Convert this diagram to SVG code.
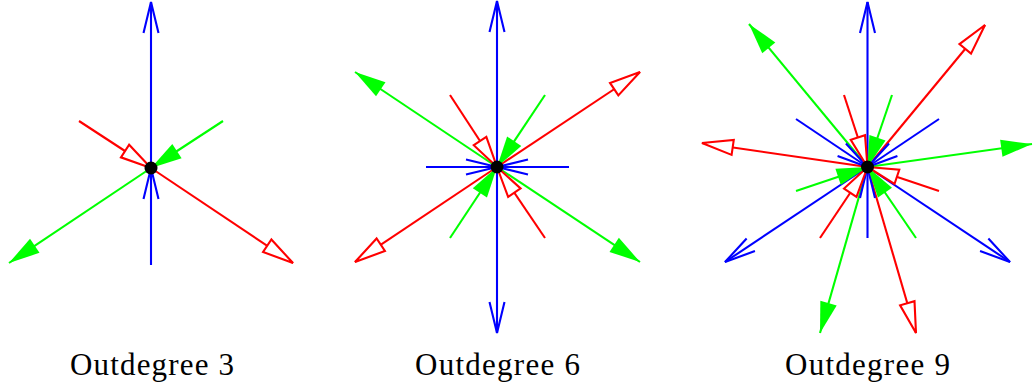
<svg xmlns="http://www.w3.org/2000/svg" width="1033" height="387" viewBox="0 0 1033 387">
<defs>
<style>
.b{stroke:#0000ff;stroke-width:2.1;fill:none;marker-end:url(#mb)}
.r{stroke:#ff0000;stroke-width:2.1;fill:none;marker-end:url(#mr)}
.g{stroke:#00ff00;stroke-width:2.1;fill:none;marker-end:url(#mg)}
.lbl{font-family:"Liberation Serif","Times New Roman",serif;font-size:31px;fill:#000;text-anchor:middle}
</style>
<marker id="mb" viewBox="-35 -10 40 20" markerWidth="40" markerHeight="20" refX="0" refY="0" orient="auto" markerUnits="userSpaceOnUse" overflow="visible">
<path d="M-31,-7.5 L0,0 L-31,7.5" fill="none" stroke="#0000ff" stroke-width="2.1"/>
</marker>
<marker id="mr" viewBox="-35 -10 40 20" markerWidth="40" markerHeight="20" refX="0" refY="0" orient="auto" markerUnits="userSpaceOnUse" overflow="visible">
<path d="M0,0 L-31,-7.5 L-31,7.5 Z" fill="#ffffff" stroke="#ff0000" stroke-width="2.1"/>
</marker>
<marker id="mg" viewBox="-35 -10 40 20" markerWidth="40" markerHeight="20" refX="0" refY="0" orient="auto" markerUnits="userSpaceOnUse" overflow="visible">
<path d="M0,0 L-31,-8.5 L-31,8.5 Z" fill="#00ff00" stroke="none"/>
</marker>
</defs>
<g id="connectors">
<g id="edges-3">
<line class="b" x1="151" y1="168" x2="151" y2="2"/>
<line class="g" x1="151" y1="168" x2="9" y2="263"/>
<line class="r" x1="151" y1="168" x2="293" y2="263"/>
<line class="b" x1="151" y1="265" x2="151" y2="168"/>
<line class="r" x1="79" y1="121" x2="151" y2="168"/>
<line class="g" x1="223" y1="121" x2="151" y2="168"/>
</g>
<g id="edges-6">
<line class="b" x1="497" y1="167" x2="497" y2="1"/>
<line class="b" x1="497" y1="167" x2="497" y2="333"/>
<line class="g" x1="497" y1="167" x2="355" y2="72"/>
<line class="g" x1="497" y1="167" x2="640" y2="262"/>
<line class="r" x1="497" y1="167" x2="640" y2="72"/>
<line class="r" x1="497" y1="167" x2="355" y2="262"/>
<line class="b" x1="426" y1="167" x2="497" y2="167"/>
<line class="b" x1="569" y1="167" x2="497" y2="167"/>
<line class="r" x1="450" y1="95" x2="497" y2="167"/>
<line class="r" x1="545" y1="238" x2="497" y2="167"/>
<line class="g" x1="545" y1="95" x2="497" y2="167"/>
<line class="g" x1="450" y1="238" x2="497" y2="167"/>
</g>
<g id="edges-9">
<line class="b" x1="867.5" y1="167" x2="867.5" y2="2"/>
<line class="g" x1="867.5" y1="167" x2="749" y2="24"/>
<line class="r" x1="867.5" y1="167" x2="985" y2="25"/>
<line class="r" x1="867.5" y1="167" x2="702" y2="143"/>
<line class="g" x1="867.5" y1="167" x2="1032" y2="144"/>
<line class="b" x1="867.5" y1="167" x2="725" y2="262"/>
<line class="b" x1="867.5" y1="167" x2="1010" y2="262"/>
<line class="g" x1="867.5" y1="167" x2="820" y2="333"/>
<line class="r" x1="867.5" y1="167" x2="916" y2="333"/>
<line class="b" x1="867.5" y1="238" x2="867.5" y2="167"/>
<line class="b" x1="796" y1="119" x2="867.5" y2="167"/>
<line class="b" x1="939" y1="119" x2="867.5" y2="167"/>
<line class="r" x1="844" y1="95" x2="867.5" y2="167"/>
<line class="r" x1="939" y1="191" x2="867.5" y2="167"/>
<line class="r" x1="820" y1="238" x2="867.5" y2="167"/>
<line class="g" x1="892" y1="95" x2="867.5" y2="167"/>
<line class="g" x1="796" y1="191" x2="867.5" y2="167"/>
<line class="g" x1="916" y1="238" x2="867.5" y2="167"/>
</g>
</g>
<g id="node-3"><circle cx="151" cy="168" r="6.5" fill="#000"/><text class="lbl" x="152" y="375" textLength="164">Outdegree 3</text></g>
<g id="node-6"><circle cx="497" cy="167" r="6.5" fill="#000"/><text class="lbl" x="497.5" y="375" textLength="165">Outdegree 6</text></g>
<g id="node-9"><circle cx="867.5" cy="167" r="6.5" fill="#000"/><text class="lbl" x="867.5" y="375" textLength="165">Outdegree 9</text></g>
</svg>
